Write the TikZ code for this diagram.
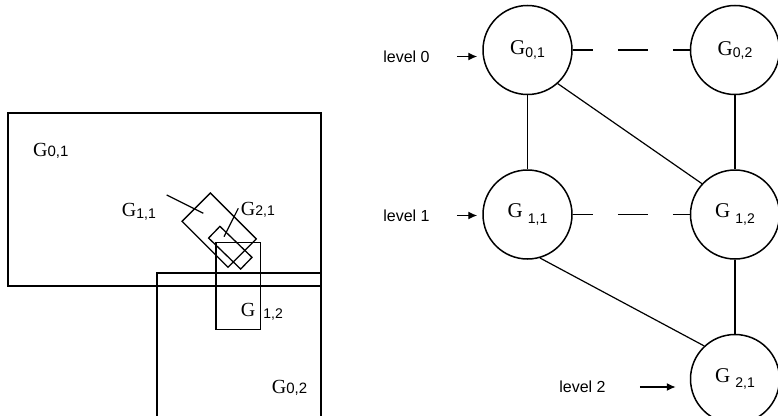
\documentclass[tikz,border=0pt]{standalone}
\usepackage{fontspec}
\setmainfont{Liberation Serif}
\setsansfont{Liberation Sans}
\usetikzlibrary{arrows.meta,positioning}
\newcommand{\Gs}[4][14]{G\hspace{#2}\raisebox{-#3}{\sffamily\fontsize{#1}{#1}\selectfont #4}}
\tikzset{
    region/.style={rectangle, draw, line width=1.4pt, inner sep=0},
    piece/.style={rectangle, draw, line width=1.3pt, inner sep=0},
    plabel/.style={font=\fontsize{20}{22}\selectfont, inner sep=0, anchor=base west},
    gnode/.style={circle, draw, line width=1.5pt, minimum size=89pt, inner sep=0, font=\fontsize{21}{23}\selectfont},
    lvltext/.style={font=\sffamily\fontsize{16}{18}\selectfont, inner sep=0},
    link/.style={line width=1.2pt},
    peer/.style={line width=1.2pt, dash pattern=on 20pt off 25pt on 30pt off 25pt on 20pt},
    pointer/.style={line width=1.4pt, -{Latex[length=9pt,width=8pt]}},
}
\begin{document}
\begin{tikzpicture}[x=1pt, y=-1pt, node distance=74pt and 117pt]
    \clip (0,0) rectangle (778,415);

    \node[region, minimum width=313pt, minimum height=173pt] (R01) at (164.5,199.5) {};
    \node[region, minimum width=164pt, minimum height=160pt] (R02) at (239,353) {};
    \node[piece, minimum width=44.7pt, minimum height=87pt] (R12) at (238.4,285.8) {};
    \node[piece, minimum width=65pt, minimum height=40pt, rotate=-45] (R11) at (219.2,230.1) {};
    \node[piece, minimum width=44.6pt, minimum height=16.3pt, rotate=-44] (R21) at (230.3,247.7) {};

    \node[plabel] (T01) at (33,156.7) {\Gs[15]{0pt}{0pt}{0,1}};
    \node[plabel] (T11) at (121.7,216.7) {\Gs{0pt}{2pt}{1,1}};
    \node[plabel] (T21) at (240.7,215.5) {\Gs{0pt}{0pt}{2,1}};
    \node[plabel] (T12) at (240.7,316.7) {\Gs{8pt}{2pt}{1,2}};
    \node[plabel] (T02) at (271.7,393.3) {\Gs[15]{0pt}{0pt}{0,2}};

    \coordinate (p11) at (166.7,195);
    \coordinate (q11) at (203.3,213.3);
    \coordinate (p21) at (238.3,208.3);
    \coordinate (q21) at (224,236.7);
    \draw[link] (p11) -- (q11);
    \draw[link] (p21) -- (q21);

    \node[gnode] (G01) at (527.5,50) {\Gs{0pt}{3pt}{0,1}};
    \node[gnode, right=of G01] (G02) {\Gs{0pt}{2pt}{0,2}};
    \node[gnode, below=of G01] (G11) {\Gs{5pt}{6pt}{1,1}};
    \node[gnode, below=of G02] (G12) {\Gs{5pt}{6pt}{1,2}};
    \node[gnode, below=of G12] (G21) {\Gs{5pt}{5pt}{2,1}};

    \draw[peer] (G01.east) -- (G02.west);
    \draw[peer] (G11.east) -- (G12.west);
    \draw[link] (G01) -- (G11);
    \draw[link] (G02) -- (G12);
    \draw[link] (G12) -- (G21);
    \draw[link] (G01.-48) -- (G12.137);
    \draw[link] (G11.-74) -- (G21.133);

    \node[lvltext] (L0) at (406.5,56.5) {level 0};
    \node[lvltext] (L1) at (406.5,215.5) {level 1};
    \node[lvltext] (L2) at (582.5,387) {level 2};
    \draw[pointer, shorten <=27pt, shorten >=5pt] (L0.east) -- (L0.east -| G01.west);
    \draw[pointer, shorten <=27pt, shorten >=5pt] (L1.east) -- (L1.east -| G11.west);
    \draw[pointer, shorten <=34pt, shorten >=14pt] (L2.east) -- (L2.east -| G21.west);
\end{tikzpicture}
\end{document}
